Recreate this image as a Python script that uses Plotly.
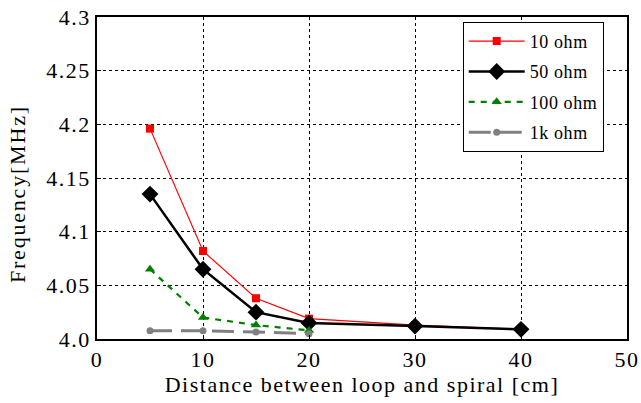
import plotly.graph_objects as go

distance = [5, 10, 15, 20, 30, 40]
ohm10 = [4.196, 4.082, 4.038, 4.019, 4.013, 4.009]
ohm50 = [4.135, 4.065, 4.025, 4.015, 4.012, 4.009]
dist_short = [5, 10, 15, 20]
ohm100 = [4.065, 4.020, 4.013, 4.008]
ohm1k = [4.0077, 4.0077, 4.0065, 4.005]

y_ticks = [4.0, 4.05, 4.1, 4.15, 4.2, 4.25, 4.3]
y_ticktext = ["4.0", "4.05", "4.1", "4.15", "4.2", "4.25", "4.3"]
x_ticks = [0, 10, 20, 30, 40, 50]
x_ticktext = ["0", "10", "20", "30", "40", "50"]
series_names = ["10 ohm", "50 ohm", "100 ohm", "1k ohm"]

FONT = "Liberation Serif, Times New Roman, Times, serif"


def sp(t, ls=1.5):
    return '<span style="letter-spacing:%spx">%s</span>' % (ls, t)


fig = go.Figure()
fig.add_trace(go.Scatter(x=distance, y=ohm10, name=sp(series_names[0], 0.6), mode="lines+markers",
                         line=dict(color="red", width=1.2),
                         marker=dict(symbol="square", size=8, color="red"),
                         legendgroup="a"))
fig.add_trace(go.Scatter(x=distance, y=ohm50, name=sp(series_names[1], 0.6), mode="lines+markers",
                         line=dict(color="black", width=2.5),
                         marker=dict(symbol="diamond", size=13, color="black"),
                         legendgroup="b"))
fig.add_trace(go.Scatter(x=dist_short, y=ohm100, name=sp(series_names[2], 0.6), mode="lines+markers",
                         line=dict(color="green", width=2.2, dash="6px,6px"),
                         marker=dict(symbol="triangle-up", size=9, color="green"),
                         legendgroup="c"))
fig.add_trace(go.Scatter(x=dist_short, y=ohm1k, name=sp(series_names[3], 0.6), mode="lines+markers",
                         line=dict(color="gray", width=3, dash="22px,9px"),
                         marker=dict(symbol="circle", size=7, color="gray"),
                         legendgroup="d"))

fig.update_layout(
    width=641, height=403,
    margin=dict(l=97, r=14, t=17, b=64, autoexpand=False),
    plot_bgcolor="white", paper_bgcolor="white",
    font=dict(family=FONT, color="black", size=22),
    showlegend=True,
    legend=dict(x=0.69, y=0.985, xanchor="left", yanchor="top",
                bgcolor="white", bordercolor="black", borderwidth=1,
                font=dict(family=FONT, size=18), tracegroupgap=4,
                itemwidth=56),
    xaxis=dict(range=[0, 50], tickvals=x_ticks, ticktext=[sp(t) for t in x_ticktext],
               automargin=False,
               showline=True, linecolor="black",
               linewidth=1.5, mirror=True, showgrid=True, gridcolor="black",
               gridwidth=1, griddash="3px,3px", zeroline=False,
               ticks="inside", ticklen=4, tickcolor="black",
               tickfont=dict(family=FONT, size=22),
               title=dict(text=sp("Distance between loop and spiral [cm]"),
                          font=dict(family=FONT, size=22), standoff=2)),
    yaxis=dict(range=[4.0, 4.3], tickvals=y_ticks, ticktext=[sp(t) for t in y_ticktext],
               automargin=False,
               showline=True, linecolor="black", linewidth=1.5, mirror=True,
               showgrid=True, gridcolor="black", gridwidth=1, griddash="3px,3px",
               zeroline=False, ticks="inside", ticklen=4, tickcolor="black",
               tickfont=dict(family=FONT, size=22)),
    annotations=[dict(text=sp("Frequency[MHz]", 1.8), xref="paper", yref="paper",
                      x=-0.151, y=0.45, xanchor="center", yanchor="middle",
                      textangle=-90, showarrow=False,
                      font=dict(family=FONT, size=22))],
)

fig.write_html("out.html")
